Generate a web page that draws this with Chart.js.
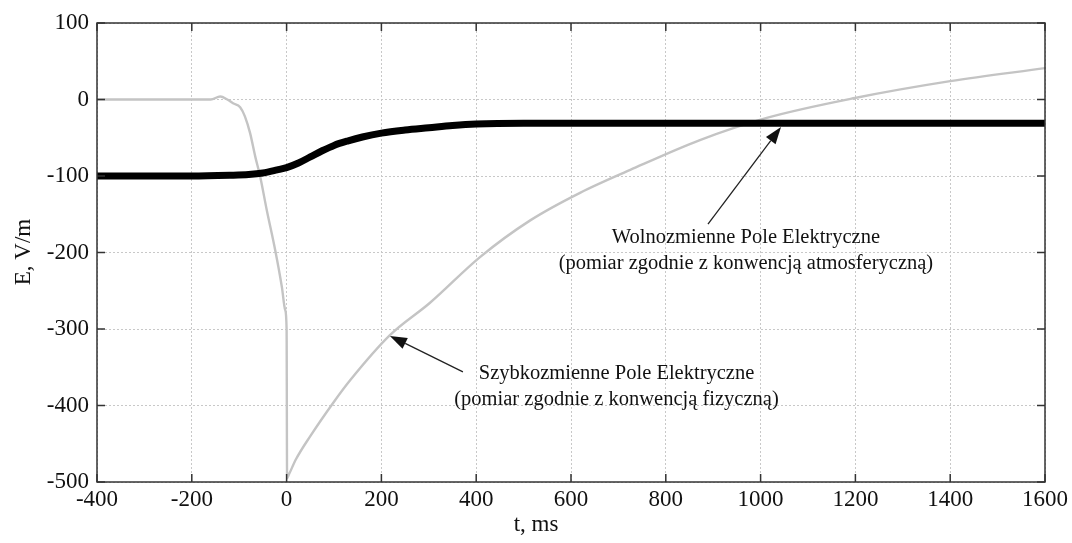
<!DOCTYPE html>
<html>
<head>
<meta charset="utf-8">
<script src="https://cdn.jsdelivr.net/npm/chart.js@4.4.0/dist/chart.umd.min.js"></script>
<style>
  html, body { margin: 0; padding: 0; background: #fff; }
  #wrap { width: 1072px; height: 543px; position: relative; }
</style>
</head>
<body>
<div id="wrap"><canvas id="fieldChart"></canvas></div>
<script>
// Fast field (gray)
const fastT = [-400, -350, -300, -250, -200, -160, -140, -125, -113, -98, -88, -77, -66, -56, -42, -24, -10, -3, 0,
               1, 5, 20, 50, 100, 134, 218, 302, 408, 514, 619, 725, 872, 1013, 1199, 1400, 1600];
const fastE = [0, 0, 0, 0, 0, 0, 4, 0, -5, -10, -22, -44, -75, -100, -144, -197, -245, -275, -300,
               -495, -490, -470, -440, -395, -367, -308, -266, -206, -158, -122, -92, -53, -24, 2, 24, 41];

// Slow field (black)
const slowT = [-400, -300, -200, -120, -80, -50, -20, 0, 25, 50, 75, 100, 130, 160, 200, 250, 300, 350, 400, 500, 1600];
const slowE = [-100, -100, -100, -99, -98, -96, -92, -89, -83, -75, -67, -60, -54, -49, -44, -40, -37, -34, -32, -31, -31];

const xTicks = [-400, -200, 0, 200, 400, 600, 800, 1000, 1200, 1400, 1600];
const yTicks = [100, 0, -100, -200, -300, -400, -500];

// annotation anchors in data units
const notes = [
    { tip: [218, -309], tail: [372, -356], at: [696, -358],
      lines: ['Szybkozmienne Pole Elektryczne', '(pomiar zgodnie z konwencją fizyczną)'] },
    { tip: [1043, -36], tail: [889, -163], at: [969, -181],
      lines: ['Wolnozmienne Pole Elektryczne', '(pomiar zgodnie z konwencją atmosferyczną)'] }
];

const FONT = '"Liberation Serif", "Times New Roman", serif';

function toPoints(xs, ys) {
    return xs.map((x, i) => ({ x: x, y: ys[i] }));
}

// frame, inward ticks, axis titles and arrows
const decorations = {
    id: 'decorations',
    afterDatasetsDraw(chart) {
        const ctx = chart.ctx;
        const a = chart.chartArea;
        const xs = chart.scales.x, ys = chart.scales.y;
        ctx.save();
        ctx.strokeStyle = '#333';
        ctx.lineWidth = 1.5;
        ctx.strokeRect(a.left, a.top, a.right - a.left, a.bottom - a.top);
        const tl = 8;
        ctx.beginPath();
        xTicks.forEach(v => {
            const px = xs.getPixelForValue(v);
            ctx.moveTo(px, a.bottom); ctx.lineTo(px, a.bottom - tl);
            ctx.moveTo(px, a.top); ctx.lineTo(px, a.top + tl);
        });
        yTicks.forEach(v => {
            const py = ys.getPixelForValue(v);
            ctx.moveTo(a.left, py); ctx.lineTo(a.left + tl, py);
            ctx.moveTo(a.right, py); ctx.lineTo(a.right - tl, py);
        });
        ctx.stroke();

        // axis titles
        ctx.fillStyle = '#111';
        ctx.font = '23px ' + FONT;
        ctx.textAlign = 'center';
        ctx.textBaseline = 'alphabetic';
        ctx.fillText('t, ms', 536, 531);
        ctx.save();
        ctx.translate(30, 252);
        ctx.rotate(-Math.PI / 2);
        ctx.fillText('E, V/m', 0, 0);
        ctx.restore();

        // annotations
        ctx.font = '20.5px ' + FONT;
        ctx.strokeStyle = '#222';
        ctx.fillStyle = '#111';
        ctx.lineWidth = 1.3;
        notes.forEach(n => {
            const x1 = xs.getPixelForValue(n.tail[0]), y1 = ys.getPixelForValue(n.tail[1]);
            const x2 = xs.getPixelForValue(n.tip[0]), y2 = ys.getPixelForValue(n.tip[1]);
            const ang = Math.atan2(y2 - y1, x2 - x1);
            const hl = 17, hw = 6;
            const bx = x2 - hl * Math.cos(ang), by = y2 - hl * Math.sin(ang);
            ctx.beginPath();
            ctx.moveTo(x1, y1); ctx.lineTo(bx, by);
            ctx.stroke();
            ctx.beginPath();
            ctx.moveTo(x2, y2);
            ctx.lineTo(bx + hw * Math.sin(ang), by - hw * Math.cos(ang));
            ctx.lineTo(bx - hw * Math.sin(ang), by + hw * Math.cos(ang));
            ctx.closePath();
            ctx.fill();
            const cx = xs.getPixelForValue(n.at[0]);
            const cy = ys.getPixelForValue(n.at[1]);
            ctx.textBaseline = 'middle';
            n.lines.forEach((t, i) => ctx.fillText(t, cx, cy + i * 26));
        });
        ctx.restore();
    }
};

const ctx = document.getElementById('fieldChart').getContext('2d');
new Chart(ctx, {
    type: 'line',
    data: {
        datasets: [{
            label: 'Wolnozmienne',
            data: toPoints(slowT, slowE),
            borderColor: '#000',
            borderWidth: 7,
            pointRadius: 0,
            cubicInterpolationMode: 'monotone',
            order: 0
        }, {
            label: 'Szybkozmienne',
            data: toPoints(fastT, fastE),
            borderColor: '#c4c4c4',
            borderWidth: 2.4,
            pointRadius: 0,
            cubicInterpolationMode: 'monotone',
            order: 1
        }]
    },
    options: {
        responsive: true,
        maintainAspectRatio: false,
        animation: false,
        layout: { padding: { left: 0, right: 27, top: 23, bottom: 0 } },
        plugins: {
            legend: { display: false },
            tooltip: { enabled: false }
        },
        scales: {
            x: {
                type: 'linear',
                min: -400,
                max: 1600,
                afterBuildTicks: s => { s.ticks = xTicks.map(v => ({ value: v })); },
                afterFit: s => { s.height = 61; },
                border: { display: false, dash: [2, 2] },
                grid: { color: '#c8c8c8', drawTicks: false },
                ticks: { color: '#111', font: { family: FONT, size: 23 }, padding: 4, maxRotation: 0, autoSkip: false,
                         callback: v => String(v) }
            },
            y: {
                min: -500,
                max: 100,
                afterBuildTicks: s => { s.ticks = yTicks.map(v => ({ value: v })); },
                afterFit: s => { s.width = 97; },
                border: { display: false, dash: [2, 2] },
                grid: { color: '#c8c8c8', drawTicks: false },
                ticks: { color: '#111', font: { family: FONT, size: 23 }, padding: 8, autoSkip: false,
                         callback: v => String(v) }
            }
        }
    },
    plugins: [decorations]
});
</script>
</body>
</html>
